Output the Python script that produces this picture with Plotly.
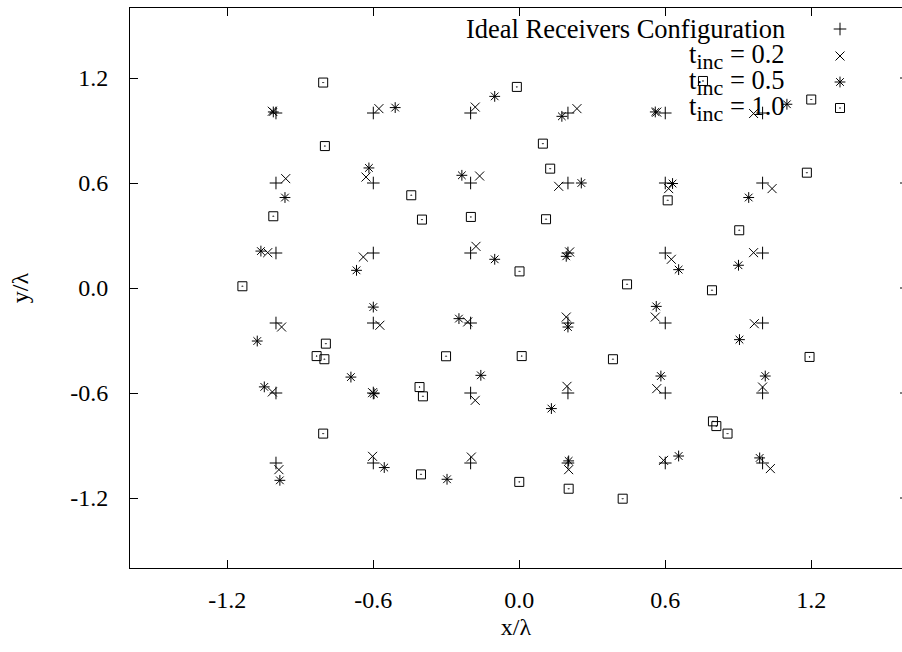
import plotly.graph_objects as go

# ---------------- data ----------------
grid_vals = [-1.0, -0.6, -0.2, 0.2, 0.6, 1.0]
ideal_x = [gx for gy in grid_vals for gx in grid_vals]
ideal_y = [gy for gy in grid_vals for gx in grid_vals]

t02_x = [-1.015, -0.577, -0.181, 0.237, 0.565, 0.963,
         -0.960, -0.630, -0.163, 0.162, 0.614, 1.039,
         -1.034, -0.641, -0.178, 0.207, 0.625, 0.963,
         -0.977, -0.573, -0.212, 0.193, 0.559, 0.966,
         -1.015, -0.603, -0.181, 0.196, 0.565, 1.000,
         -0.988, -0.603, -0.197, 0.203, 0.593, 1.032]
t02_y = [1.010, 1.025, 1.034, 1.025, 1.005, 0.997,
         0.625, 0.634, 0.640, 0.581, 0.568, 0.568,
         0.202, 0.177, 0.238, 0.206, 0.164, 0.202,
         -0.223, -0.213, -0.194, -0.166, -0.166, -0.204,
         -0.594, -0.598, -0.642, -0.562, -0.575, -0.566,
         -1.038, -0.962, -0.966, -1.038, -0.985, -1.032]

t05_x = [-1.011, -0.510, -0.101, 0.175, 0.559, 1.100,
         -0.963, -0.618, -0.236, 0.255, 0.630, 0.943,
         -1.062, -0.669, -0.101, 0.193, 0.655, 0.901,
         -1.077, -0.600, -0.248, 0.200, 0.563, 0.905,
         -1.048, -0.692, -0.597, -0.158, 0.132, 0.582, 1.011,
         -0.984, -0.555, -0.297, 0.203, 0.655, 0.988]
t05_y = [1.006, 1.031, 1.095, 0.981, 1.006, 1.050,
         0.517, 0.686, 0.644, 0.600, 0.597, 0.517,
         0.211, 0.101, 0.164, 0.181, 0.105, 0.130,
         -0.303, -0.109, -0.175, -0.223, -0.105, -0.295,
         -0.565, -0.509, -0.604, -0.499, -0.689, -0.503, -0.503,
         -1.099, -1.026, -1.093, -0.988, -0.960, -0.971]

t10_x = [-0.806, -0.799, -0.010, 0.097, 0.127, -0.444, 0.755, 1.200, 1.182,
         0.610, -1.011, -1.138, -0.795, -0.833, -0.801, -0.400, -0.199, 0.110,
         0.001, 0.443, -0.301, 0.010, 0.385, -0.410, 0.904, 0.792, 1.193,
         -0.806, -0.396, -0.404, 0.000, 0.203, 0.425, 0.796, 0.810, 0.856]
t10_y = [1.174, 0.811, 1.149, 0.825, 0.682, 0.530, 1.183, 1.077, 0.659,
         0.501, 0.410, 0.010, -0.318, -0.389, -0.407, 0.391, 0.406, 0.393,
         0.095, 0.021, -0.390, -0.389, -0.407, -0.566, 0.330, -0.013, -0.394,
         -0.832, -0.619, -1.065, -1.108, -1.147, -1.204, -0.762, -0.789, -0.832]

tick_vals = [-1.2, -0.6, 0.0, 0.6, 1.2]
tick_text = ["-1.2", "-0.6", "0.0", "0.6", "1.2"]

SUB = "<sub><span style='font-size:22px'>inc</span></sub>"
legend_labels = ["Ideal Receivers Configuration",
                 "t" + SUB + " = 0.2",
                 "t" + SUB + " = 0.5",
                 "t" + SUB + " = 1.0"]
symbols = ["cross-thin-open", "x-thin-open", "asterisk-open", "square-open-dot"]

FONT = "Liberation Serif"
W, H = 902, 652
ML, MR, MT, MB = 130, 0, 8, 84
PW, PH = W - ML - MR, H - MT - MB

fig = go.Figure()
series = [(ideal_x, ideal_y), (t02_x, t02_y), (t05_x, t05_y), (t10_x, t10_y)]
for (xs, ys), sym in zip(series, symbols):
    fig.add_trace(go.Scatter(
        x=xs, y=ys, mode="markers", showlegend=False, hoverinfo="skip",
        marker=dict(symbol=sym, size=9, color="black",
                    line=dict(color="black", width=1))))

# legend drawn gnuplot-style (text right-aligned, sample to the right)
leg_row_y = [21, 48, 74, 100]      # pixels from top of plot area
leg_sym_x = 710
leg_txt_x = 657
fig.add_trace(go.Scatter(
    x=[leg_sym_x] * 4, y=leg_row_y, mode="markers", showlegend=False,
    hoverinfo="skip", xaxis="x2", yaxis="y2",
    marker=dict(symbol=symbols, size=9, color="black",
                line=dict(color="black", width=1))))
for lab, ry in zip(legend_labels, leg_row_y):
    fig.add_annotation(x=leg_txt_x, y=ry, xref="x2", yref="y2", text=lab,
                       showarrow=False, xanchor="right", yanchor="middle",
                       font=dict(family=FONT, size=26.5, color="black"))

# right-side tick stubs (the right frame line itself lies outside the image)
for tv in tick_vals:
    fig.add_shape(type="line", xref="paper", yref="y",
                  x0=1 - 2.0 / PW, x1=1, y0=tv, y1=tv,
                  line=dict(color="black", width=1))

axis_common = dict(showgrid=False, zeroline=False, ticks="inside", ticklen=8,
                   tickwidth=1, tickcolor="black", showline=True,
                   linecolor="black", linewidth=1,
                   tickvals=tick_vals, ticktext=tick_text,
                   tickfont=dict(family=FONT, size=24, color="black"))

fig.update_layout(
    width=W, height=H,
    margin=dict(l=ML, r=MR, t=MT, b=MB, pad=0),
    plot_bgcolor="white", paper_bgcolor="white",
    font=dict(family=FONT, color="black"),
    xaxis=dict(range=[-1.6, -1.6 + PW / 243.3], mirror="ticks",
               ticklabelstandoff=10,
               title=dict(text="x/λ", font=dict(family=FONT, size=24), standoff=6),
               **axis_common),
    yaxis=dict(range=[-1.6, 1.6], mirror=False,
               ticklabelstandoff=16,
               title=dict(text="y/λ", font=dict(family=FONT, size=24), standoff=34),
               **axis_common),
    xaxis2=dict(range=[0, PW], overlaying="x", anchor="y2", visible=False,
                showgrid=False, zeroline=False),
    yaxis2=dict(range=[PH, 0], overlaying="y", anchor="x2", visible=False,
                showgrid=False, zeroline=False),
)

fig.write_html("out.html")
